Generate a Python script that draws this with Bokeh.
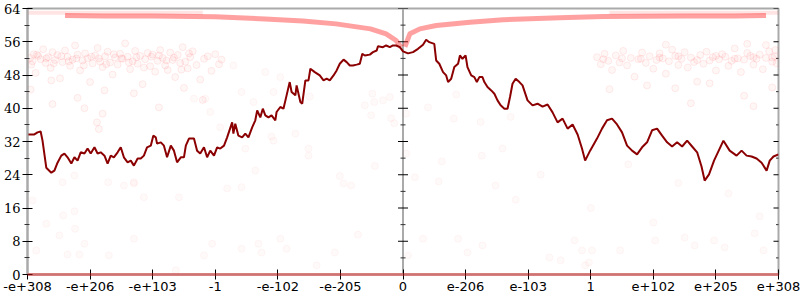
from bokeh.plotting import figure
from bokeh.models import Range1d, FixedTicker, Span
from bokeh.embed import file_html
from bokeh.resources import INLINE

# ---- axis ticks / labels ----
x_ticks = [-6, -5, -4, -3, -2, -1, 0, 1, 2, 3, 4, 5, 6]
x_labels = ["-e+308", "-e+206", "-e+103", "-1", "-e-102", "-e-205", "0",
            "e-206", "e-103", "1", "e+102", "e+205", "e+308"]
y_ticks = [0, 8, 16, 24, 32, 40, 48, 56, 64]
y_minor = [4, 12, 20, 28, 36, 44, 52, 60]

# ---- dark red series ----
line_x = [-6.0, -5.89, -5.84, -5.79, -5.76, -5.70, -5.62, -5.57, -5.52, -5.46, -5.41, -5.36, -5.30, -5.25,
          -5.20, -5.15, -5.09, -5.04, -4.99, -4.93, -4.88, -4.83, -4.77, -4.72, -4.67, -4.62, -4.56, -4.51,
          -4.46, -4.40, -4.35, -4.30, -4.24, -4.19, -4.14, -4.09, -4.03, -3.99, -3.95, -3.93, -3.87, -3.82,
          -3.77, -3.71, -3.66, -3.61, -3.55, -3.50, -3.47, -3.42, -3.34, -3.29, -3.24, -3.18, -3.13, -3.08,
          -3.02, -2.97, -2.92, -2.86, -2.81, -2.73, -2.71, -2.68, -2.63, -2.57, -2.52, -2.47, -2.41, -2.36,
          -2.33, -2.28, -2.24, -2.20, -2.15, -2.10, -2.04, -2.02, -1.96, -1.91, -1.86, -1.81, -1.78, -1.72,
          -1.70, -1.64, -1.61, -1.56, -1.51, -1.48, -1.41, -1.33, -1.27, -1.22, -1.17, -1.11, -1.06, -1.01,
          -0.95, -0.90, -0.85, -0.80, -0.74, -0.69, -0.65, -0.61, -0.53, -0.48, -0.42, -0.40, -0.32, -0.27,
          -0.21, -0.16, -0.11, -0.05, 0.0, 0.08, 0.16, 0.24, 0.32, 0.37, 0.42, 0.50, 0.53, 0.58, 0.64, 0.69,
          0.72, 0.77, 0.82, 0.88, 0.91, 0.95, 1.00, 1.03, 1.09, 1.14, 1.18, 1.22, 1.27, 1.30, 1.35, 1.41,
          1.46, 1.51, 1.56, 1.62, 1.67, 1.71, 1.75, 1.80, 1.86, 1.91, 1.99, 2.07, 2.15, 2.23, 2.31, 2.39,
          2.47, 2.55, 2.63, 2.71, 2.79, 2.86, 2.91, 2.99, 3.10, 3.18, 3.26, 3.34, 3.42, 3.50, 3.58, 3.66,
          3.74, 3.82, 3.90, 3.98, 4.06, 4.14, 4.22, 4.30, 4.38, 4.46, 4.54, 4.62, 4.70, 4.77, 4.82, 4.89,
          4.97, 5.06, 5.12, 5.22, 5.33, 5.41, 5.49, 5.57, 5.65, 5.73, 5.81, 5.86, 5.92, 6.0]
line_y = [33.7, 33.7, 34.2, 34.4, 32.2, 25.7, 24.5, 25.0, 26.9, 28.6, 29.1, 28.2, 26.7, 28.2,
          27.4, 29.4, 29.1, 30.3, 29.1, 30.6, 29.1, 29.4, 28.6, 26.7, 28.6, 28.2, 29.4, 30.6,
          28.2, 27.0, 27.4, 26.2, 27.9, 27.9, 28.6, 30.6, 31.0, 33.4, 33.0, 31.5, 31.8, 31.0,
          28.2, 31.0, 29.8, 27.0, 28.2, 28.2, 31.0, 32.7, 32.7, 29.8, 29.1, 30.6, 28.2, 29.8,
          28.6, 30.6, 30.3, 31.0, 33.0, 36.6, 33.9, 36.3, 33.4, 33.0, 33.9, 33.0, 35.4, 37.1,
          39.5, 37.8, 39.9, 38.3, 37.8, 38.3, 37.1, 39.1, 40.3, 39.9, 43.1, 46.3, 43.9, 43.1,
          45.5, 41.5, 41.1, 46.7, 46.7, 49.5, 48.7, 47.9, 46.7, 47.1, 46.7, 47.9, 49.1, 50.7,
          51.7, 51.1, 50.3, 50.3, 50.5, 50.7, 53.1, 52.7, 52.9, 53.5, 53.9, 54.9, 54.7, 55.1,
          54.7, 55.1, 55.1, 54.7, 53.7, 53.2, 53.5, 54.3, 55.3, 56.5, 55.9, 55.5, 51.5, 50.7, 48.7, 47.9,
          46.3, 47.1, 49.9, 50.7, 52.7, 51.9, 52.7, 49.9, 47.9, 47.5, 46.3, 47.5, 47.5, 46.3, 45.1, 44.3,
          43.5, 41.9, 40.7, 39.9, 39.9, 42.7, 45.9, 47.1, 46.3, 45.5, 41.9, 40.7, 41.1, 40.4, 40.9, 39.0,
          36.6, 37.5, 35.1, 36.1, 33.7, 30.3, 27.4, 29.8, 32.7, 35.1, 37.1, 37.5, 36.1, 34.2, 31.0, 29.8,
          28.9, 30.6, 31.8, 34.7, 35.1, 33.4, 31.8, 30.8, 31.8, 30.8, 32.2, 30.8, 29.4, 26.0, 22.6, 24.1,
          27.4, 30.3, 32.2, 29.8, 28.6, 29.8, 28.6, 28.4, 27.9, 26.9, 25.0, 27.4, 28.4, 28.9]

# ---- dense point bands (drawn as translucent strokes) ----
top_left_x = [-5.4, -4.8, -4.0, -3.0, -2.2, -1.6, -1.07, -0.52, -0.27, -0.11, -0.03]
top_left_y = [62.3, 62.2, 62.2, 62.0, 61.5, 61.0, 60.3, 59.1, 57.9, 56.3, 54.7]
top_right_x = [0.03, 0.11, 0.27, 0.53, 1.07, 1.6, 2.5, 3.2, 4.5, 5.3, 5.8]
top_right_y = [54.8, 57.9, 59.1, 59.9, 60.7, 61.3, 61.8, 62.1, 62.2, 62.2, 62.3]
upper_row_left_x = [-6.0, -3.2]
upper_row_left_y = [63.0, 63.0]
upper_row_right_x = [3.3, 6.0]
upper_row_right_y = [63.0, 63.0]
zero_x = [-6.0, 6.0]
zero_y = [0.0, 0.0]

# ---- scattered points ----
band_left = [(-5.96, 52.1), (-5.92, 51.3), (-5.9, 53.0), (-5.87, 48.5), (-5.83, 52.6), (-5.79, 51.8),
             (-5.75, 54.2), (-5.71, 50.9), (-5.67, 52.3), (-5.63, 49.7), (-5.6, 53.5), (-5.56, 51.6),
             (-5.52, 52.8), (-5.48, 47.2), (-5.44, 51.1), (-5.4, 53.9), (-5.36, 52.4), (-5.32, 50.2),
             (-5.28, 51.7), (-5.24, 55.1), (-5.2, 52.9), (-5.16, 49.1), (-5.12, 51.5), (-5.08, 53.2),
             (-5.04, 52.0), (-5.0, 46.3), (-4.96, 50.8), (-4.92, 52.7), (-4.88, 54.5), (-4.84, 51.2),
             (-4.8, 49.9), (-4.76, 52.5), (-4.72, 53.6), (-4.68, 51.0), (-4.64, 48.1), (-4.6, 52.2),
             (-4.56, 50.5), (-4.52, 53.1), (-4.48, 51.9), (-4.44, 55.6), (-4.4, 52.4), (-4.36, 49.4),
             (-4.32, 51.3), (-4.28, 53.8), (-4.24, 50.7), (-4.2, 52.6), (-4.16, 45.8), (-4.12, 51.8),
             (-4.08, 53.3), (-4.04, 50.1), (-4.0, 52.9), (-3.96, 48.8), (-3.92, 51.4), (-3.88, 54.0),
             (-3.84, 52.1), (-3.8, 50.3), (-3.76, 49.2), (-3.72, 53.4), (-3.68, 51.6), (-3.64, 47.5),
             (-3.6, 52.8), (-3.56, 50.9), (-3.52, 54.7), (-3.48, 51.2), (-3.44, 49.6), (-3.4, 52.3),
             (-3.36, 53.7), (-3.3, 50.4), (-3.24, 46.9), (-3.18, 51.9), (-3.12, 52.5), (-3.06, 49.0),
             (-3.0, 53.0), (-2.94, 50.6), (-2.9, 51.7), (-5.94, 50.5), (-5.85, 52.9), (-5.7, 52.0),
             (-5.58, 50.8), (-5.46, 52.5), (-5.34, 51.3), (-5.22, 52.0), (-5.1, 50.3), (-4.98, 52.4),
             (-4.86, 52.0), (-4.74, 50.6), (-4.62, 53.0), (-4.5, 52.0), (-4.38, 51.0), (-4.26, 52.3),
             (-4.14, 49.8), (-4.02, 52.4), (-3.9, 52.7), (-3.78, 51.5), (-3.66, 52.2), (-3.54, 49.3),
             (-3.42, 53.2), (-5.95, 44.5), (-5.6, 41.0), (-5.2, 42.5), (-4.8, 38.7), (-4.3, 43.6),
             (-3.9, 40.2), (-3.5, 44.9), (-3.2, 42.0), (-5.62, 46.7), (-4.77, 44.3), (-5.09, 40.0),
             (-4.89, 36.6), (-4.86, 35.0)]
band_right = [(3.1, 52.3), (3.16, 50.6), (3.22, 53.1), (3.28, 51.4), (3.34, 49.2), (3.4, 52.7), (3.46, 51.0),
              (3.52, 53.8), (3.58, 50.3), (3.64, 52.1), (3.7, 47.6), (3.76, 51.8), (3.82, 53.4), (3.88, 50.9),
              (3.94, 52.5), (4.0, 49.5), (4.05, 51.6), (4.1, 53.2), (4.15, 52.0), (4.2, 48.3), (4.25, 51.3),
              (4.3, 54.1), (4.35, 52.6), (4.4, 50.4), (4.45, 51.9), (4.5, 53.5), (4.55, 49.8), (4.6, 52.2),
              (4.65, 51.1), (4.7, 46.4), (4.75, 52.8), (4.8, 50.7), (4.85, 53.6), (4.9, 51.5), (4.95, 52.3),
              (5.0, 49.1), (5.05, 51.8), (5.1, 53.0), (5.15, 52.4), (5.2, 50.2), (5.25, 51.4), (5.3, 54.4),
              (5.35, 52.0), (5.4, 48.7), (5.45, 51.7), (5.5, 53.3), (5.55, 52.6), (5.6, 50.5), (5.65, 51.9),
              (5.7, 52.9), (5.75, 49.4), (5.8, 52.1), (5.85, 53.7), (5.9, 51.2), (5.94, 52.5), (5.97, 50.8),
              (3.2, 51.8), (3.5, 52.0), (3.8, 51.9), (4.1, 52.2), (4.4, 52.5), (4.7, 51.6), (5.0, 52.6),
              (5.3, 51.9), (5.6, 52.3), (5.9, 52.2), (5.95, 54.0), (5.8, 55.2), (5.5, 55.5), (4.2, 55.3),
              (3.3, 44.6), (3.9, 45.5), (4.35, 44.8), (4.9, 46.0), (5.45, 43.0), (5.9, 45.0), (5.6, 40.5),
              (4.6, 41.2)]
sparse = [(-0.49, 43.5), (-0.61, 40.7), (-0.46, 41.5), (-0.32, 41.9), (-0.21, 42.7), (-0.51, 38.3),
          (-0.19, 37.6), (-0.14, 36.4), (0.05, 38.7), (-0.45, 26.1), (-1.01, 23.7), (-0.95, 21.9),
          (-0.83, 21.4), (0.19, 23.4), (0.05, 29.1), (0.85, 43.3), (0.40, 40.2), (0.81, 37.5),
          (1.24, 36.7), (1.72, 37.9), (1.59, 30.3), (1.26, 28.6), (0.62, 27.2), (0.57, 22.4),
          (1.48, 21.4), (-2.71, 50.3), (-2.2, 48.7), (-1.96, 47.5), (-2.58, 43.9), (-2.07, 43.9),
          (-2.39, 41.5), (-1.49, 42.8), (-1.72, 33.9), (-2.1, 33.2), (-2.07, 32.2), (-2.52, 30.3),
          (-1.51, 30.3), (-1.51, 28.6), (-2.36, 25.0), (-2.81, 20.7), (-2.58, 21.0), (-3.34, 42.3),
          (-3.16, 42.3), (-3.08, 39.1), (-2.92, 35.4), (-4.3, 21.9), (-4.46, 21.4), (-5.25, 23.8),
          (-5.44, 22.2), (-4.71, 22.2), (-4.3, 22.2), (-4.14, 18.6), (-3.58, 18.6), (-5.92, 17.8),
          (-5.43, 14.2), (-5.25, 15.2), (-5.70, 12.2), (-5.24, 11.0), (-5.49, 9.4), (-5.09, 7.4),
          (-5.36, 4.8), (-5.17, 4.8), (-5.86, 5.8), (-4.3, 8.6), (-4.7, 4.6), (-3.18, 4.6),
          (-3.05, 7.4), (-2.58, 6.2), (-2.31, 7.4), (-2.26, 5.3), (-1.96, 8.6), (-1.86, 6.2),
          (-1.38, 2.2), (-1.09, 5.3), (-0.72, 9.6), (-3.63, 1.0), (0.08, 4.6), (0.32, 8.6),
          (0.88, 8.6), (1.03, 5.3), (1.27, 7.0), (2.34, 4.1), (2.52, 3.4), (2.74, 8.2),
          (2.86, 5.8), (3.02, 5.8), (2.91, 2.2), (2.97, 2.9), (3.47, 5.8), (4.03, 8.2),
          (4.5, 8.9), (4.66, 7.0), (4.97, 8.2), (5.14, 6.5), (5.62, 9.9), (5.76, 5.8),
          (3.6, 26.5), (4.4, 22.0), (5.2, 19.5), (2.2, 24.0), (5.7, 14.0), (3.0, 16.0),
          (4.0, 12.5), (1.8, 18.0)]

band_pts = band_left + band_right
band_x = [a for a, b in band_pts]
band_y = [b for a, b in band_pts]
sparse_x = [a for a, b in sparse]
sparse_y = [b for a, b in sparse]

# ---- figure ----
p = figure(width=800, height=300, x_range=Range1d(-6, 6), y_range=Range1d(0, 64),
           output_backend="svg", toolbar_location=None,
           min_border_left=24, min_border_right=22, min_border_top=8, min_border_bottom=26)
p.xgrid.visible = False
p.ygrid.visible = False
p.background_fill_color = "white"
p.border_fill_color = "white"
p.outline_line_color = "#aaaaaa"
p.outline_line_width = 2
p.outline_line_alpha = 1.0

# x axis
xa = p.xaxis[0]
xa.ticker = FixedTicker(ticks=x_ticks)
xa.major_label_overrides = {t: s for t, s in zip(x_ticks, x_labels)}
xa.major_tick_in = 5
xa.major_tick_out = 5
xa.minor_tick_out = 0
xa.minor_tick_in = 0
xa.axis_line_color = "#aaaaaa"
xa.axis_line_width = 2
xa.major_tick_line_color = "black"
xa.major_label_standoff = 2
xa.major_label_text_font = "DejaVu Sans"
xa.major_label_text_font_size = "13px"
xa.major_label_text_color = "black"

# y axis (left)
ya = p.yaxis[0]
ya.ticker = FixedTicker(ticks=y_ticks, minor_ticks=y_minor)
ya.major_tick_in = 5
ya.major_tick_out = 5
ya.minor_tick_in = 2
ya.minor_tick_out = 3
ya.axis_line_color = "#aaaaaa"
ya.axis_line_width = 2
ya.major_tick_line_color = "black"
ya.minor_tick_line_color = "#333333"
ya.major_label_standoff = 2
ya.major_label_text_font = "DejaVu Serif"
ya.major_label_text_font_size = "13px"
ya.major_label_text_color = "black"

# center and right axis: gray line + tick marks at the y tick values
p.add_layout(Span(location=0, dimension="height", line_color="#aaaaaa", line_width=2, level="underlay"))
for xpos in (0, 6):
    p.scatter(x=[xpos] * len(y_ticks), y=y_ticks, marker="dash", size=10,
              line_color="black", line_width=1)
    p.scatter(x=[xpos] * len(y_minor), y=y_minor, marker="dash", size=5,
              line_color="#333333", line_width=1)

# point clouds
p.scatter(x=band_x, y=band_y, size=7, fill_color="#ff0000", fill_alpha=0.035,
          line_color="#ff0000", line_alpha=0.07)
p.scatter(x=sparse_x, y=sparse_y, size=7, fill_color="#ff0000", fill_alpha=0.02,
          line_color="#ff0000", line_alpha=0.04)
p.line(upper_row_left_x, upper_row_left_y, line_color="#ff2020", line_width=4, line_alpha=0.12)
p.line(upper_row_right_x, upper_row_right_y, line_color="#ff2020", line_width=4, line_alpha=0.12)
p.line(top_left_x, top_left_y, line_color="#ff2020", line_width=5, line_alpha=0.42, line_join="round")
p.line(top_right_x, top_right_y, line_color="#ff2020", line_width=5, line_alpha=0.42, line_join="round")
p.line(zero_x, zero_y, line_color="#ff2020", line_width=3, line_alpha=0.4, level="overlay")

# main series
p.line(line_x, line_y, line_color="#8b0000", line_width=2)

open("out.html", "w").write(file_html(p, INLINE))
